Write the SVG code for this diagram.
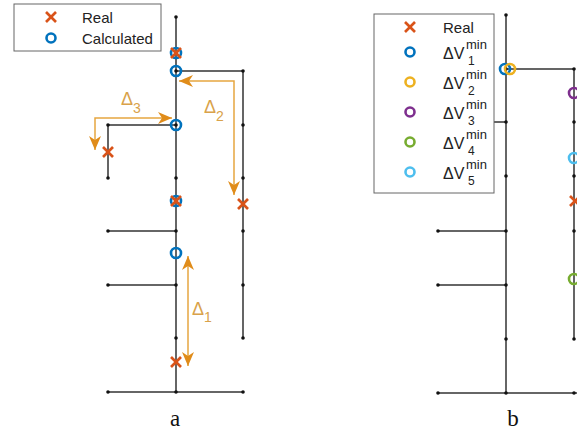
<svg xmlns="http://www.w3.org/2000/svg" width="577" height="432" viewBox="0 0 577 432">
<style>
.ln{stroke:#333;stroke-width:1.5;fill:none}
.dot{fill:#111}
.arr{stroke:#E6A640;stroke-width:1.5;fill:none}
.x{stroke:#D95319;stroke-width:2.6;stroke-linecap:butt}
.c{fill:none;stroke-width:2.6}
.t{font-family:"Liberation Sans",Arial,sans-serif;fill:#222}
.d{font-family:"Liberation Sans",Arial,sans-serif;fill:#D9A24A}
.lab{font-family:"Liberation Serif","Times New Roman",serif;font-size:23px;fill:#111}
</style>
<defs>
<marker id="ah" viewBox="0 0 14 12" refX="14" refY="6" markerWidth="14" markerHeight="12" markerUnits="userSpaceOnUse" orient="auto-start-reverse">
<path d="M0,0 L14,6 L0,12 L4,6 z" fill="#E08C1A"/>
</marker>
<g id="xm"><line class="x" x1="-5" y1="-5" x2="5" y2="5"/><line class="x" x1="-5" y1="5" x2="5" y2="-5"/></g>
</defs>
<rect width="577" height="432" fill="#fff"/>

<!-- Panel a network -->
<g id="connectors-a">
<line class="ln" x1="176" y1="17" x2="176" y2="392"/>
<polyline class="ln" points="176,71 243,71 243,338"/>
<polyline class="ln" points="176,125 108,125 108,178"/>
<line class="ln" x1="108" y1="231" x2="176" y2="231"/>
<line class="ln" x1="108" y1="285" x2="176" y2="285"/>
<line class="ln" x1="108" y1="392" x2="243" y2="392"/>
</g>
<g id="dots-a" class="dot">
<circle cx="176" cy="17" r="1.8"/><circle cx="176" cy="71" r="1.8"/><circle cx="176" cy="125" r="1.8"/><circle cx="176" cy="178" r="1.8"/><circle cx="176" cy="231" r="1.8"/><circle cx="176" cy="285" r="1.8"/><circle cx="176" cy="338" r="1.8"/><circle cx="176" cy="392" r="1.8"/>
<circle cx="243" cy="71" r="1.8"/><circle cx="243" cy="125" r="1.8"/><circle cx="243" cy="178" r="1.8"/><circle cx="243" cy="231" r="1.8"/><circle cx="243" cy="285" r="1.8"/><circle cx="243" cy="338" r="1.8"/><circle cx="243" cy="392" r="1.8"/>
<circle cx="108" cy="125" r="1.8"/><circle cx="108" cy="178" r="1.8"/><circle cx="108" cy="231" r="1.8"/><circle cx="108" cy="285" r="1.8"/><circle cx="108" cy="392" r="1.8"/>
</g>
<g id="arrows-a">
<polyline class="arr" points="234,195 234,81 179,81" marker-start="url(#ah)" marker-end="url(#ah)"/>
<polyline class="arr" points="95,150 95,118 172,118" marker-start="url(#ah)" marker-end="url(#ah)"/>
<line class="arr" x1="188" y1="256" x2="188" y2="366" marker-start="url(#ah)" marker-end="url(#ah)"/>
<text class="d" x="204" y="113" font-size="18">Δ<tspan font-size="14" dy="8">2</tspan></text>
<text class="d" x="121" y="105" font-size="18">Δ<tspan font-size="14" dy="8">3</tspan></text>
<text class="d" x="192" y="315" font-size="18">Δ<tspan font-size="14" dy="7">1</tspan></text>
</g>
<g id="markers-a">
<circle class="c" stroke="#0072BD" cx="176" cy="53" r="5"/><use href="#xm" x="176" y="53"/>
<circle class="c" stroke="#0072BD" cx="176" cy="71" r="5"/>
<circle class="c" stroke="#0072BD" cx="176" cy="125" r="5"/>
<use href="#xm" x="108" y="152"/>
<circle class="c" stroke="#0072BD" cx="176" cy="201" r="5"/><use href="#xm" x="176" y="201"/>
<use href="#xm" x="243" y="204"/>
<circle class="c" stroke="#0072BD" cx="176" cy="253" r="5"/>
<use href="#xm" x="176" y="362"/>
</g>
<g id="legend-a">
<rect x="14" y="4" width="147" height="47" fill="#fff" stroke="#666" stroke-width="1"/>
<use href="#xm" x="51" y="17"/>
<circle class="c" stroke="#0072BD" cx="51" cy="38" r="4.5"/>
<text class="t" x="82" y="23" font-size="15">Real</text>
<text class="t" x="82" y="44" font-size="15">Calculated</text>
</g>
<text id="label-a" class="lab" x="175" y="426" text-anchor="middle">a</text>

<!-- Panel b network -->
<g id="connectors-b">
<line class="ln" x1="506" y1="15" x2="506" y2="393"/>
<polyline class="ln" points="506,69 574,69 574,339"/>
<line class="ln" x1="494" y1="122" x2="506" y2="122"/>
<line class="ln" x1="438" y1="231" x2="506" y2="231"/>
<line class="ln" x1="438" y1="285" x2="506" y2="285"/>
<line class="ln" x1="438" y1="393" x2="577" y2="393"/>
</g>
<g id="dots-b" class="dot">
<circle cx="506" cy="15" r="1.8"/><circle cx="506" cy="69" r="1.8"/><circle cx="506" cy="122" r="1.8"/><circle cx="506" cy="176" r="1.8"/><circle cx="506" cy="231" r="1.8"/><circle cx="506" cy="285" r="1.8"/><circle cx="506" cy="339" r="1.8"/><circle cx="506" cy="393" r="1.8"/>
<circle cx="574" cy="69" r="1.8"/><circle cx="574" cy="122" r="1.8"/><circle cx="574" cy="176" r="1.8"/><circle cx="574" cy="231" r="1.8"/><circle cx="574" cy="339" r="1.8"/><circle cx="574" cy="393" r="1.8"/>
<circle cx="438" cy="231" r="1.8"/><circle cx="438" cy="285" r="1.8"/><circle cx="438" cy="393" r="1.8"/>
</g>
<g id="markers-b">
<circle class="c" stroke="#0072BD" cx="505" cy="69" r="5"/>
<circle class="c" stroke="#EDB120" cx="510" cy="69" r="5"/>
<circle class="c" stroke="#7E2F8E" cx="574" cy="93" r="5"/>
<circle class="c" stroke="#4DBEEE" cx="574" cy="158" r="5"/>
<use href="#xm" x="575" y="201"/>
<circle class="c" stroke="#77AC30" cx="574" cy="279" r="5"/>
</g>
<g id="legend-b">
<rect x="374" y="14" width="120" height="179" fill="#fff" stroke="#666" stroke-width="1"/>
<use href="#xm" x="410" y="27"/>
<text class="t" x="443" y="33" font-size="15">Real</text>
<circle class="c" stroke="#0072BD" cx="410" cy="52" r="4.5"/>
<circle class="c" stroke="#EDB120" cx="410" cy="82" r="4.5"/>
<circle class="c" stroke="#7E2F8E" cx="410" cy="112" r="4.5"/>
<circle class="c" stroke="#77AC30" cx="410" cy="142" r="4.5"/>
<circle class="c" stroke="#4DBEEE" cx="410" cy="172" r="4.5"/>
<g class="t" font-size="16">
<text x="443" y="59">ΔV</text><text x="466" y="49" font-size="13">min</text><text x="468" y="65" font-size="12">1</text>
<text x="443" y="89">ΔV</text><text x="466" y="79" font-size="13">min</text><text x="468" y="95" font-size="12">2</text>
<text x="443" y="119">ΔV</text><text x="466" y="109" font-size="13">min</text><text x="468" y="125" font-size="12">3</text>
<text x="443" y="149">ΔV</text><text x="466" y="139" font-size="13">min</text><text x="468" y="155" font-size="12">4</text>
<text x="443" y="179">ΔV</text><text x="466" y="169" font-size="13">min</text><text x="468" y="185" font-size="12">5</text>
</g>
</g>
<text id="label-b" class="lab" x="513" y="426" text-anchor="middle">b</text>
</svg>
